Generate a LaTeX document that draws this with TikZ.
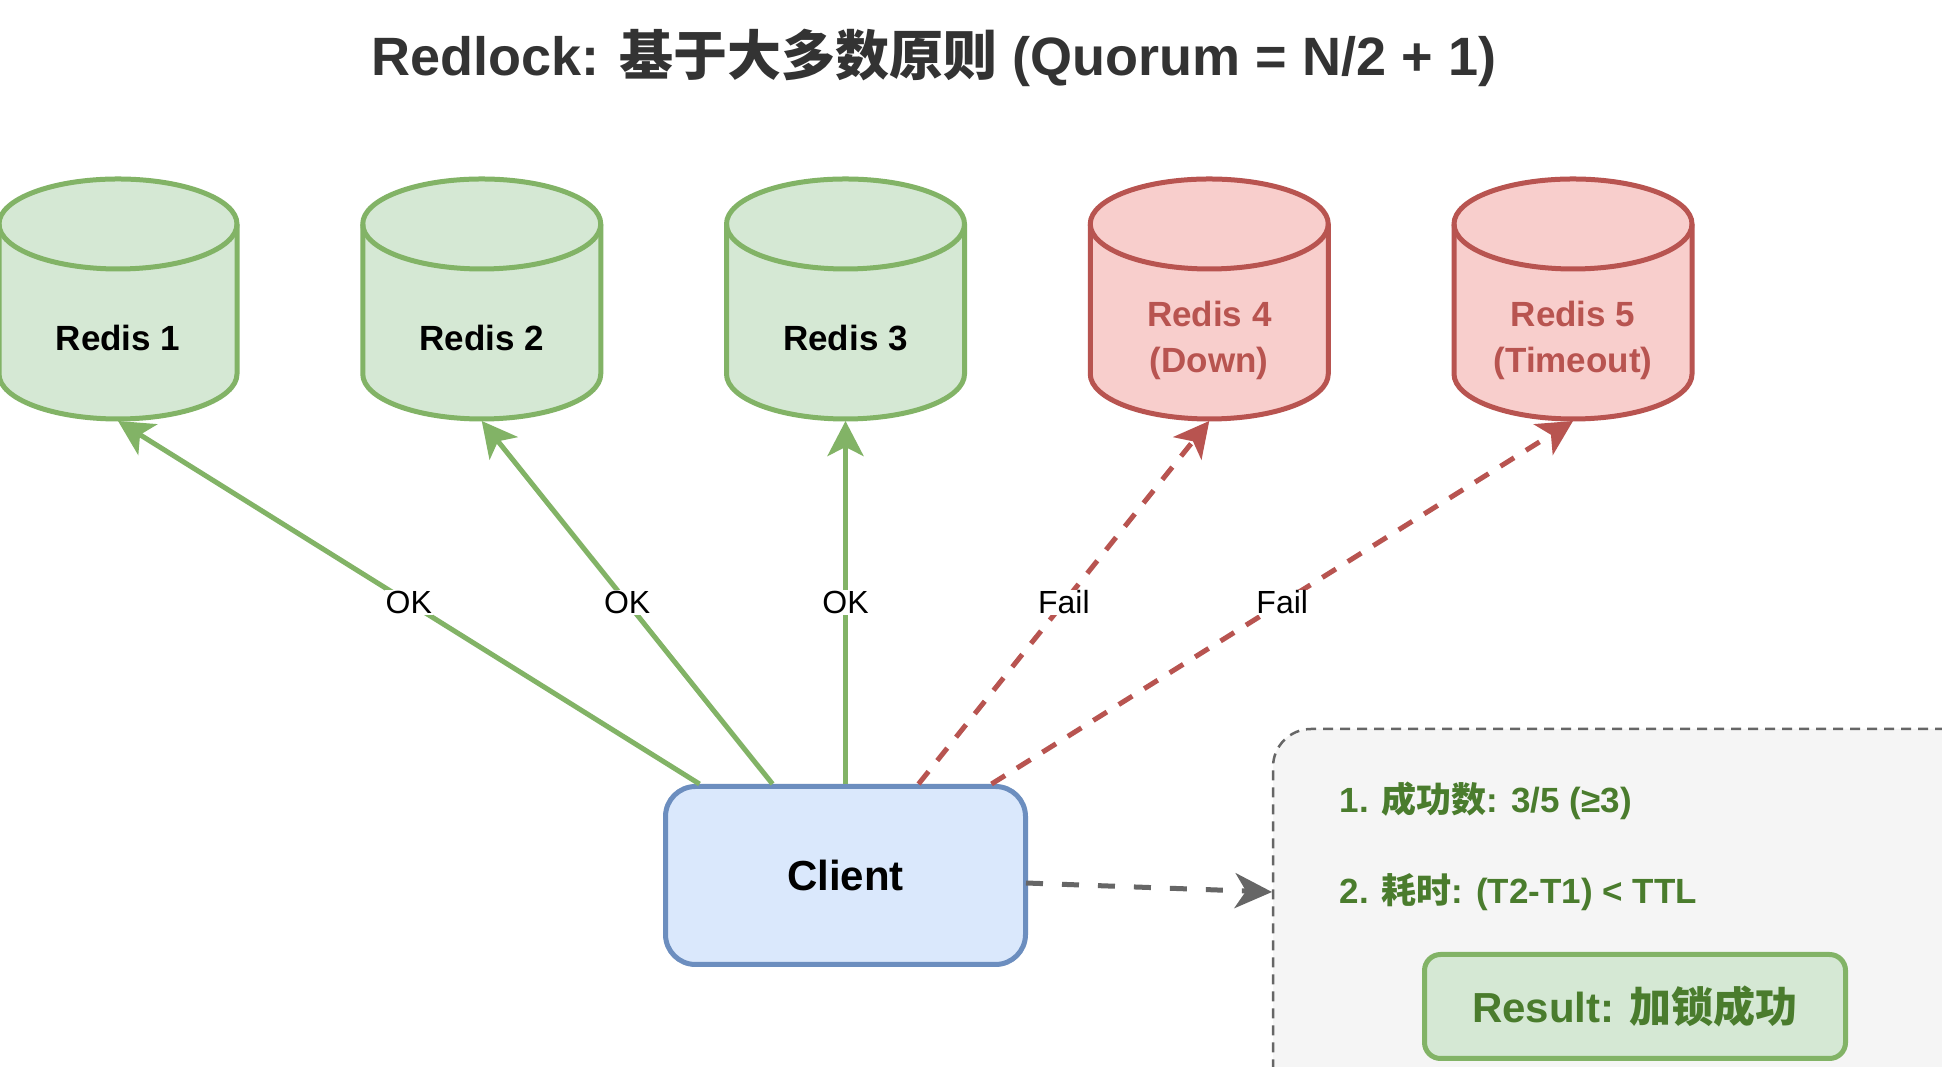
\documentclass[tikz,border=0pt]{standalone}
\usepackage{fontspec}
\setmainfont{Liberation Sans}
\newfontfamily\cjk{Noto Sans CJK SC}
\usetikzlibrary{arrows.meta,calc}
\definecolor{gfill}{HTML}{D5E8D4}
\definecolor{gline}{HTML}{82B366}
\definecolor{rfill}{HTML}{F8CECC}
\definecolor{rline}{HTML}{B85450}
\definecolor{bfill}{HTML}{DAE8FC}
\definecolor{bline}{HTML}{6C8EBF}
\definecolor{gtext}{HTML}{4A7C2D}
\definecolor{titlec}{HTML}{333333}
\definecolor{grayl}{HTML}{666666}
\definecolor{boxfill}{HTML}{F5F5F5}
\newcommand\mycyl[4]{%
  \filldraw[line width=5pt, draw=#3, fill=#2]
    (#1-119,843) -- (#1-119,693)
    arc[start angle=180,end angle=360,x radius=119,y radius=45]
    -- (#1+119,843)
    arc[start angle=0,end angle=180,x radius=119,y radius=45] -- cycle;
  \draw[line width=5pt, draw=#3] (#1-119,843)
    arc[start angle=180,end angle=360,x radius=119,y radius=45];
  \coordinate (#4) at (#1,646);
}
\tikzset{
  okarrow/.style={line width=5pt, draw=gline, -{Stealth[length=35pt,width=36pt,inset=9pt]}},
  failarrow/.style={line width=5pt, draw=rline, dash pattern=on 16pt off 14pt, -{Stealth[length=35pt,width=36pt,inset=9pt]}},
  lbl/.style={fill=white, inner sep=1pt, text=black, font=\fontsize{32}{38}\selectfont},
  cyltext/.style={font=\fontsize{35}{46}\selectfont\bfseries, align=center},
  infotext/.style={anchor=west, text=gtext, font=\fontsize{35}{42}\selectfont\bfseries},
}
\begin{document}
\begin{tikzpicture}[x=1pt,y=1pt]
\useasboundingbox (0,0) rectangle (1942,1067);
\clip (0,0) rectangle (1942,1067);
\fill[white] (0,0) rectangle (1942,1067);

% title
\node[text=titlec, font=\fontsize{54}{60}\selectfont\bfseries] (title) at (934,1009)
  {Redlock: {\cjk 基于大多数原则} (Quorum = N/2 + 1)};

% cylinders
\mycyl{118}{gfill}{gline}{r1}
\mycyl{481.75}{gfill}{gline}{r2}
\mycyl{845.5}{gfill}{gline}{r3}
\mycyl{1209.25}{rfill}{rline}{r4}
\mycyl{1573}{rfill}{rline}{r5}
\node[cyltext] (t1) at (118,729) {Redis 1};
\node[cyltext] (t2) at (481.75,729) {Redis 2};
\node[cyltext] (t3) at (845.5,729) {Redis 3};
\node[cyltext, text=rline] (t4) at (1209.25,727) {Redis 4\\(Down)};
\node[cyltext, text=rline] (t5) at (1573,727) {Redis 5\\(Timeout)};

% client
\node[draw=bline, fill=bfill, line width=5pt, rounded corners=30pt,
      minimum width=360pt, minimum height=178pt,
      font=\fontsize{42}{50}\selectfont\bfseries] (cl) at (845.5,191.5) {Client};
\coordinate (s1) at ($(cl.north west)!0.1!(cl.north east)$);
\coordinate (s2) at ($(cl.north west)!0.3!(cl.north east)$);
\coordinate (s3) at ($(cl.north west)!0.5!(cl.north east)$);
\coordinate (s4) at ($(cl.north west)!0.7!(cl.north east)$);
\coordinate (s5) at ($(cl.north west)!0.9!(cl.north east)$);

\draw[okarrow] (s1) -- (r1) node[lbl, pos=0.5] {OK};
\draw[okarrow] (s2) -- (r2) node[lbl, pos=0.5] {OK};
\draw[okarrow] (s3) -- (r3) node[lbl, pos=0.5] {OK};
\draw[failarrow] (s4) -- (r4) node[lbl, pos=0.5] {Fail};
\draw[failarrow] (s5) -- (r5) node[lbl, pos=0.5] {Fail};

% panel
\node[draw=grayl, fill=boxfill, line width=2.5pt, dash pattern=on 10pt off 7pt,
      rounded corners=38pt, minimum width=727pt, minimum height=398pt,
      inner sep=0pt] (panel) at (1636.5,139) {};
\node[infotext] (c1) at (1336,266) {1. {\cjk 成功数}: 3/5 (≥3)};
\node[infotext] (c2) at (1336,175) {2. {\cjk 耗时}: (T2-T1) < TTL};
\node[draw=gline, fill=gfill, line width=5pt, rounded corners=16pt,
      minimum width=421pt, minimum height=104pt, text=gtext,
      font=\fontsize{42}{50}\selectfont\bfseries] (res) at (1635,60.5) {Result: {\cjk 加锁成功}};

% gray arrow
\coordinate (clout) at (1026,184);
\coordinate (pin) at (1272,175);
\draw[line width=5pt, draw=grayl, dash pattern=on 17pt off 19pt,
      -{Stealth[length=37pt,width=35pt,inset=11pt]}] (clout) -- (pin);
\end{tikzpicture}
\end{document}
